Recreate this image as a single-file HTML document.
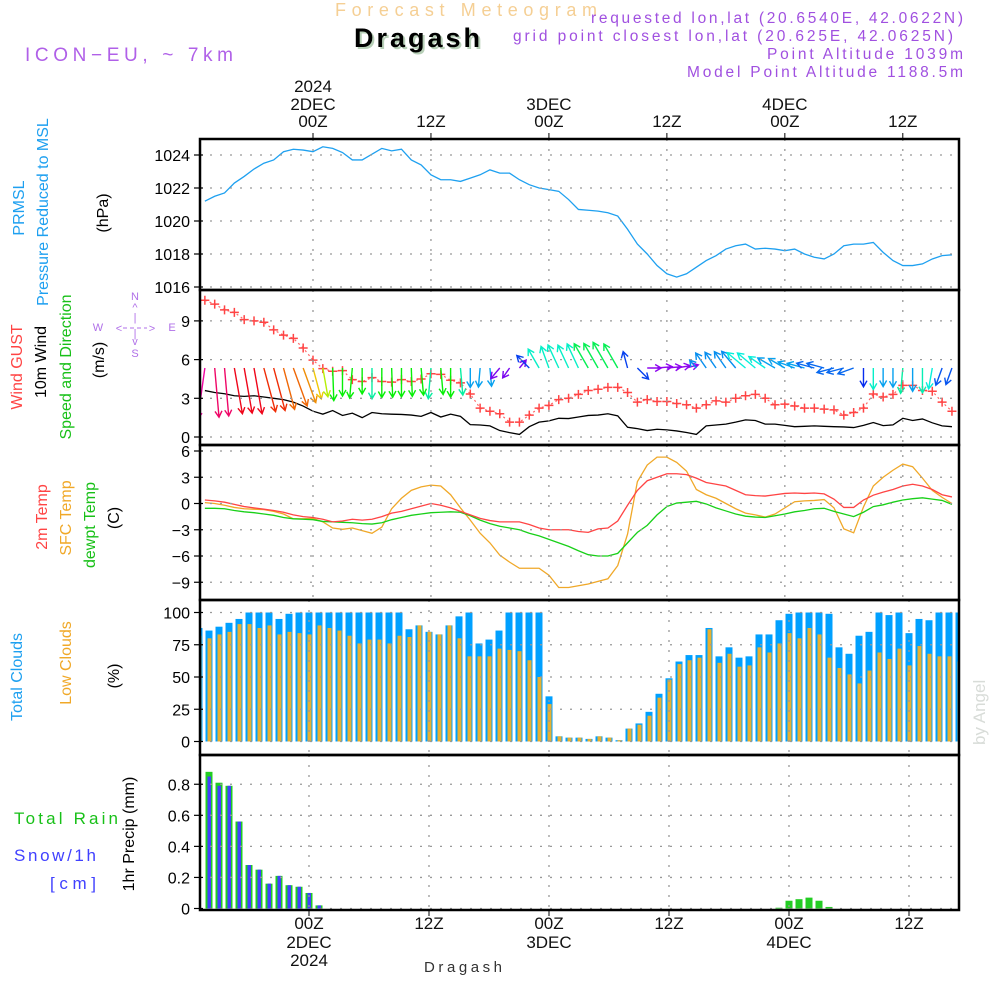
<!DOCTYPE html>
<html><head><meta charset="utf-8"><style>
html,body{margin:0;padding:0;background:#fff}
svg{display:block}
text{font-family:"Liberation Sans",sans-serif}
</style></head><body>
<svg id="chart" width="1000" height="1000" viewBox="0 0 1000 1000" xmlns="http://www.w3.org/2000/svg">
<text x="335" y="16" font-size="18" fill="#f5cf94" textLength="262" lengthAdjust="spacing">Forecast Meteogram</text>
<text x="356" y="49" font-size="27" font-weight="bold" font-family="Liberation Serif" fill="#b8d0b8" textLength="126" lengthAdjust="spacing">Dragash</text>
<text x="354" y="47" font-size="27" font-weight="bold" font-family="Liberation Serif" fill="#000" textLength="126" lengthAdjust="spacing">Dragash</text>
<text x="25" y="61" font-size="19" fill="#b060e8" textLength="208" lengthAdjust="spacing">ICON−EU, ~ 7km</text>
<g fill="#a050e0" font-size="15.5" text-anchor="end">
<text x="963" y="23" textLength="372" lengthAdjust="spacing">requested lon,lat (20.6540E, 42.0622N)</text>
<text x="953" y="41" textLength="440" lengthAdjust="spacing">grid point closest lon,lat (20.625E, 42.0625N)</text>
<text x="963" y="59" textLength="196" lengthAdjust="spacing">Point Altitude 1039m</text>
<text x="963" y="77" textLength="276" lengthAdjust="spacing">Model Point Altitude 1188.5m</text>
</g>
<text transform="translate(985,745) rotate(-90)" font-size="17" font-family="Liberation Serif" fill="#d8dcd8">by Angel</text>
<text x="424" y="972" font-size="15" font-family="Liberation Serif" fill="#333" textLength="78" lengthAdjust="spacing">Dragash</text>
<g id="labels" font-size="15"></g>
<g id="plot"></g>
</svg>
<script>
// ---------- data (hourly, hour 1 = 13Z 1 Dec) ----------
const hours = Array.from({length:77},(_,i)=>i+1);
const pressure = [1021.2,1021.5,1021.7,1022.3,1022.7,1023.15,1023.5,1023.7,1024.2,1024.35,1024.3,1024.2,1024.5,1024.4,1024.15,1023.7,1023.7,1024.05,1024.4,1024.25,1024.35,1023.7,1023.4,1022.8,1022.5,1022.5,1022.4,1022.6,1022.8,1023.1,
1022.9,1022.9,1022.5,1022.2,1022.0,1021.9,1021.8,1021.3,1020.7,1020.65,1020.6,1020.5,1020.3,1019.5,1018.6,1018.0,1017.3,1016.8,1016.6,1016.8,1017.2,1017.6,1017.9,1018.3,1018.5,1018.6,1018.3,1018.35,1018.3,1018.2,1018.3,1018.0,1017.8,1017.7,1018.0,1018.5,1018.6,1018.6,1018.7,1018.1,1017.6,1017.3,1017.3,1017.4,1017.7,1017.9,1017.95];
const gust = [10.6,10.3,9.85,9.66,9.1,9.0,8.9,8.3,7.9,7.65,6.9,5.96,5.3,5.1,5.15,4.45,4.3,4.6,4.3,4.25,4.45,4.3,4.5,4.9,4.85,4.4,4.2,3.33,2.24,2.0,1.8,1.15,1.15,1.7,2.24,2.45,2.9,3.0,3.3,3.6,
3.7,3.85,3.85,3.45,2.7,2.9,2.75,2.75,2.6,2.5,2.24,2.5,2.8,2.7,3.0,3.2,3.3,3.0,2.5,2.55,2.4,2.24,2.24,2.16,2.1,1.7,1.9,2.24,3.33,3.1,3.3,4.0,4.0,3.6,3.55,2.7,2.0];
const wind10m = [3.6,3.45,3.35,3.2,3.15,3.2,3.1,3.0,2.9,2.7,2.4,2.0,1.77,2.05,1.67,1.85,1.5,1.9,1.8,1.77,1.75,1.7,1.6,1.9,1.55,1.77,1.6,0.96,0.93,0.86,0.5,0.34,0.2,0.8,1.15,1.25,1.45,1.43,1.55,1.67,
1.7,1.8,1.64,0.75,0.65,0.5,0.6,0.55,0.47,0.35,0.2,0.86,0.93,1.0,1.15,1.33,1.28,1.0,1.0,0.9,0.8,0.83,0.86,0.83,0.8,0.78,0.73,0.9,1.12,0.88,0.94,1.45,1.28,1.4,1.1,0.86,0.8];
const windDirTo = [188,175,175,170,170,170,165,165,165,160,160,165,170,178,180,185,180,180,180,178,180,178,175,185,175,180,175,180,185,175,220,215,40,315,330,340,335,335,335,330,
330,330,330,345,135,90,85,85,80,75,320,325,325,325,320,310,310,305,300,300,290,285,285,285,255,255,250,180,180,180,180,185,180,180,190,200,200];
const arrowHue = [320,335,335,355,355,355,10,10,25,25,35,50,75,120,120,120,120,160,120,120,120,120,120,160,120,120,160,200,200,200,270,270,270,225,170,170,170,170,170,140,
140,140,140,225,225,275,275,275,275,275,205,205,205,205,205,175,175,175,200,200,200,200,215,215,215,215,215,230,170,200,200,160,200,165,175,220,220];
const temp2m = [0.4,0.3,0.15,-0.1,-0.35,-0.5,-0.65,-0.8,-1.0,-1.3,-1.5,-1.6,-1.8,-2.1,-2.0,-1.8,-1.9,-1.8,-1.5,-1.1,-0.9,-0.6,-0.3,0,-0.2,-0.5,-0.9,-1.3,-1.7,-1.95,-2.1,-2.1,-2.1,-2.4,-2.8,-3.0,-3.0,-3.0,-3.2,-3.3,
-2.9,-2.8,-2.0,-0.2,1.5,2.6,3.0,3.4,3.4,3.3,2.9,2.4,2.2,2.0,1.5,1.0,0.9,0.85,1.0,1.15,1.2,1.15,1.2,1.1,0.5,-0.45,-0.45,0.4,0.95,1.3,1.6,2.0,2.2,2.0,1.6,1.0,0.75];
const sfcTemp = [0.1,0.0,-0.2,-0.45,-0.6,-0.65,-0.7,-0.9,-1.2,-1.75,-1.75,-1.7,-2.1,-2.8,-2.95,-2.8,-3.1,-3.4,-2.7,-0.6,0.6,1.5,1.9,2.1,2.0,1.0,-0.5,-1.9,-3.4,-4.5,-5.9,-6.7,-7.4,-7.4,-7.4,-8.2,-9.6,-9.6,-9.4,-9.2,
-8.9,-8.6,-7.1,-3.5,2.5,4.4,5.3,5.3,4.7,3.7,1.6,1.0,0.6,0.0,-0.6,-1.1,-1.3,-1.55,-1.2,-0.5,0.2,0.3,0.35,0.45,-0.5,-2.9,-3.35,-0.4,2.0,3.0,3.8,4.5,4.2,2.9,1.5,0.7,0.0];
const dewpoint = [-0.55,-0.55,-0.6,-0.8,-0.95,-1.05,-1.2,-1.35,-1.6,-1.75,-1.8,-1.85,-2.05,-2.1,-2.15,-2.2,-2.3,-2.35,-2.2,-1.85,-1.6,-1.35,-1.2,-1.05,-1.0,-0.95,-1.0,-1.4,-1.9,-2.3,-2.6,-2.8,-3.0,-3.4,-3.7,-4.1,-4.5,-4.9,-5.4,-5.85,
-6.0,-6.0,-5.7,-4.5,-3.3,-2.5,-1.3,-0.35,0.05,0.15,0.25,-0.05,-0.5,-0.85,-1.2,-1.45,-1.55,-1.6,-1.4,-1.2,-0.95,-0.8,-0.6,-0.55,-0.9,-1.2,-1.5,-1.0,-0.35,-0.15,0.15,0.4,0.55,0.65,0.5,0.35,-0.1];
const totalClouds = [88,86,89,92,95,100,100,100,95,99,100,100,100,100,100,100,100,100,100,100,100,87,90,85,83,90,97,100,76,79,86,100,100,100,100,35,4,3,3,2,
4,3,1,10,14,23,37,49,62,67,67,88,66,73,65,66,83,83,94,99,100,100,100,99,73,68,82,85,100,98,100,84,95,94,100,100,100];
const lowClouds = [82,80,83,85,91,91,88,90,83,85,84,83,90,88,86,82,76,79,79,76,82,81,90,85,83,90,80,66,66,66,72,71,70,63,50,29,4,3,3,2,
4,3,1,10,13,20,34,48,60,63,65,87,61,68,58,59,73,69,76,84,80,88,83,65,57,52,45,55,69,64,72,59,74,68,66,66,62];
const totalPrecip = [0,0.88,0.81,0.79,0.56,0.28,0.25,0.16,0.21,0.15,0.14,0.10,0.02,0,0,0,0,0,0,0,0,0,0,0,0,0,0,0,0,0,0,0,0,0,0,0,0,0,0,0,
0,0,0,0,0,0,0,0,0,0,0,0,0,0,0,0,0,0,0.005,0.05,0.06,0.07,0.05,0.01,0,0,0,0,0,0,0,0,0,0,0,0,0];
const snowPrecip = [0,0.85,0.79,0.79,0.56,0.28,0.25,0.16,0.21,0.15,0.14,0.10,0.02,0,0,0,0,0,0,0,0,0,0,0,0,0,0,0,0,0,0,0,0,0,0,0,0,0,0,0,
0,0,0,0,0,0,0,0,0,0,0,0,0,0,0,0,0,0,0,0,0,0,0,0,0,0,0,0,0,0,0,0,0,0,0,0,0];
const pressTicks = [1016,1018,1020,1022,1024];
const windTicks = [0,3,6,9];
const tempTicks = [-9,-6,-3,0,3,6];
const cloudTicks = [0,25,50,75,100];
const precipTicks = [0,0.2,0.4,0.6,0.8];
const timeMarks = [12,24,36,48,60,72];
const timeLabels = ["00Z","12Z","00Z","12Z","00Z","12Z"];
const dayLabels = ["2DEC","","3DEC","","4DEC",""];

// ---------- axes ----------
const X0=200, X1=959;
const xTop = h => 313 + (h-12)*9.83;
const xBot = h => 309 + (h-12)*10.0;
const yP = v => 155 - (v-1024)*16.5;
const yW = v => 437 - v*12.9;
const yT = v => 503.5 - v*8.75;
const yC = v => 741.5 - v*1.29;
const yR = v => 908.5 - v*155.3;

const NS="http://www.w3.org/2000/svg";
const plot=document.getElementById('plot');
const labels=document.getElementById('labels');
function mk(tag,attrs,parent){const e=document.createElementNS(NS,tag);for(const k in attrs)e.setAttribute(k,attrs[k]);(parent||plot).appendChild(e);return e;}

const defs=mk('defs',{});
const cp=mk('clipPath',{id:'clip'},defs); mk('rect',{x:X0,y:139,width:X1-X0,height:771},cp);
const clipG=mk('g',{'clip-path':'url(#clip)'});



const panels=[
 {name:'pressure',top:139,bot:290,ticks:pressTicks,y:yP,fmt:v=>v,xf:xTop},
 {name:'wind',top:290,bot:445,ticks:windTicks,y:yW,fmt:v=>v,xf:xTop},
 {name:'temperature',top:445,bot:600,ticks:tempTicks,y:yT,fmt:v=>v<0?'−'+(-v):v,xf:xTop},
 {name:'clouds',top:600,bot:755,ticks:cloudTicks,y:yC,fmt:v=>v,xf:xBot},
 {name:'precip',top:755,bot:910,ticks:precipTicks,y:yR,fmt:v=>v===0?'0':v.toFixed(1),xf:xBot}
];
panels.forEach(p=>{
  const g=mk('g',{});
  
  
  p.ticks.forEach(t=>{
    const y=p.y(t);
    const gl=mk('line',{x1:X0,x2:X1,y1:y,y2:y,stroke:'#999','stroke-width':1.3,'stroke-dasharray':'2 8'},g);
    
    
    mk('line',{x1:X0-6,x2:X0+3,y1:y,y2:y,stroke:'#000','stroke-width':1.2},g);
    const tl=mk('text',{x:X0-10,y:y+6,'font-size':16,'text-anchor':'end',fill:'#000'},g);
    tl.textContent=p.fmt(t);
    
    
  });
  timeMarks.forEach(h=>{
    const x=p.xf(h);
    const vl=mk('line',{x1:x,x2:x,y1:p.top,y2:p.bot,stroke:'#999','stroke-width':1.3,'stroke-dasharray':'2 8'},g);
    
    
  });
});

const pl=mk('polyline',{points:hours.map((h,i)=>xTop(h)+','+yP(pressure[i])).join(' '),fill:'none',stroke:'#1ea0f0','stroke-width':1.3},clipG);



const wl=mk('polyline',{points:hours.map((h,i)=>xTop(h)+','+yW(wind10m[i])).join(' '),fill:'none',stroke:'#000','stroke-width':1.3},clipG);


const gl=mk('polyline',{points:hours.map((h,i)=>xTop(h)+','+yW(gust[i])).join(' '),fill:'none',stroke:'#f66','stroke-width':1.2,'stroke-dasharray':'2 3'},clipG);


hours.forEach((h,i)=>{
  const x=xTop(h),y=yW(gust[i]);
  const m=mk('path',{d:`M${x-4.5},${y}H${x+4.5}M${x},${y-4.5}V${y+4.5}`,stroke:'#f44','stroke-width':1.5},clipG);
  
  
});
hours.forEach((h,i)=>{
  const x=xTop(h),y=368;
  const L=8+12*wind10m[i];
  const a=windDirTo[i]*Math.PI/180;
  const dx=Math.sin(a)*L, dy=-Math.cos(a)*L;
  const ex=x+dx, ey=y+dy;
  const ux=dx/L, uy=dy/L, hl=7;
  const c=`hsl(${arrowHue[i]},95%,48%)`;
  const lx=ex-hl*(ux*0.87-uy*0.5), ly=ey-hl*(uy*0.87+ux*0.5);
  const rx=ex-hl*(ux*0.87+uy*0.5), ry=ey-hl*(uy*0.87-ux*0.5);
  const ar=mk('path',{d:`M${x},${y}L${ex},${ey}M${lx},${ly}L${ex},${ey}L${rx},${ry}`,stroke:c,'stroke-width':1.4,fill:'none'},clipG);
  
  
});

[[sfcTemp,'#f0a828','sfc-temp-line'],[dewpoint,'#18d018','dewpoint-line'],[temp2m,'#f44','temp-2m-line']].forEach(([arr,c,n])=>{
  const l=mk('polyline',{points:hours.map((h,i)=>xTop(h)+','+yT(arr[i])).join(' '),fill:'none',stroke:c,'stroke-width':1.3},clipG);
  
  
});

hours.forEach((h,i)=>{
  const x=xBot(h);
  const b=mk('rect',{x:x-3.5,y:yC(totalClouds[i]),width:7,height:yC(0)-yC(totalClouds[i]),fill:'#00a0ff'},clipG);
  
  
  const o=mk('rect',{x:x-1.5,y:yC(lowClouds[i]),width:4,height:yC(0)-yC(lowClouds[i]),fill:'#e8b030'},clipG);
  
  
});
hours.forEach((h,i)=>{
  const x=xBot(h);
  if(totalPrecip[i]>0){
    const b=mk('rect',{x:x-3.5,y:yR(totalPrecip[i]),width:7,height:yR(0)-yR(totalPrecip[i]),fill:'#22cc22'},clipG);
    
    
  }
  if(snowPrecip[i]>0){
    const s=mk('rect',{x:x-1.5,y:yR(snowPrecip[i]),width:3.5,height:yR(0)-yR(snowPrecip[i]),fill:'#4040ff'},clipG);
    
    
  }
});

panels.forEach(p=>{
  const r=mk('rect',{x:X0,y:p.top,width:X1-X0,height:p.bot-p.top,fill:'none',stroke:'#000','stroke-width':2.5});
  
  
});
timeMarks.forEach((h,i)=>{
  const xt=xTop(h), xb=xBot(h);
  mk('line',{x1:xt,x2:xt,y1:139,y2:133,stroke:'#000'});
  mk('line',{x1:xb,x2:xb,y1:910,y2:916,stroke:'#000'});
  const t=mk('text',{x:xt,y:127,'font-size':17,'text-anchor':'middle',fill:'#111'});
  t.textContent=timeLabels[i];
  
  
  const b=mk('text',{x:xb,y:929,'font-size':17,'text-anchor':'middle',fill:'#111'});
  b.textContent=timeLabels[i];
  
  
  if(dayLabels[i]){
    const d=mk('text',{x:xt,y:110,'font-size':17,'text-anchor':'middle',fill:'#111'});
    d.textContent=dayLabels[i];
    
    
    const d2=mk('text',{x:xb,y:948,'font-size':17,'text-anchor':'middle',fill:'#111'});
    d2.textContent=dayLabels[i];
    
    
  }
});
const y1=mk('text',{x:xTop(12),y:92,'font-size':17,'text-anchor':'middle',fill:'#111'});
y1.textContent='2024';


const y2=mk('text',{x:xBot(12),y:966,'font-size':17,'text-anchor':'middle',fill:'#111'});
y2.textContent='2024';



function vt(txt,x,y,c,n,fs){
  const t=mk('text',{transform:`translate(${x},${y}) rotate(-90)`,'text-anchor':'middle','font-size':fs||16,fill:c},labels);
  t.textContent=txt;
  
  
}
vt('PRMSL',24,208,'#1ea0f0','pressure-title');
vt('Pressure Reduced to MSL',48,212,'#1ea0f0','pressure-subtitle');
vt('(hPa)',108,213,'#000','pressure-unit');
vt('Wind GUST',22,367,'#f44','gust-title');
vt('10m Wind',46,362,'#000','wind-10m-title');
vt('Speed and Direction',71,367,'#18c018','wind-direction-title');
vt('(m/s)',104,360,'#000','wind-unit');
vt('2m Temp',47,517,'#f44','temp-2m-title');
vt('SFC Temp',71,518,'#f0a828','sfc-temp-title');
vt('dewpt Temp',95,525,'#18c018','dewpoint-title');
vt('(C)',119,518,'#000','temp-unit');
vt('Total Clouds',22,677,'#1ea0f0','total-clouds-title');
vt('Low Clouds',71,663,'#f0a828','low-clouds-title');
vt('(%)',119,676,'#000','clouds-unit');
vt('1hr Precip (mm)',134,834,'#000','precip-title');
function ht(txt,x,y,c,n,tl){
  const t=mk('text',{x:x,y:y,'font-size':17,fill:c},labels);
  if(tl){t.setAttribute('textLength',tl);t.setAttribute('lengthAdjust','spacing');}
  t.textContent=txt;
  
  
}
ht('Total  Rain',14,824,'#18c018','rain-legend',104);
ht('Snow/1h',14,861,'#4040ff','snow-legend',82);
ht('[cm]',50,889,'#4040ff','snow-unit',46);
const cg=mk('g',{fill:'#b070e8','font-size':11,'text-anchor':'middle'},labels);


[['N',135,300],['^',135,311],['|',135,321],['W',98,331],['E',172,331],['<',119,332],['>',152,332],['S',135,357],['v',135,345],['|',135,337]].forEach(([s,x,y])=>{const t=mk('text',{x:x,y:y},cg);t.textContent=s;});
mk('line',{x1:123,x2:147,y1:328,y2:328,stroke:'#b070e8','stroke-dasharray':'4 3'},cg);
</script>
</body></html>
